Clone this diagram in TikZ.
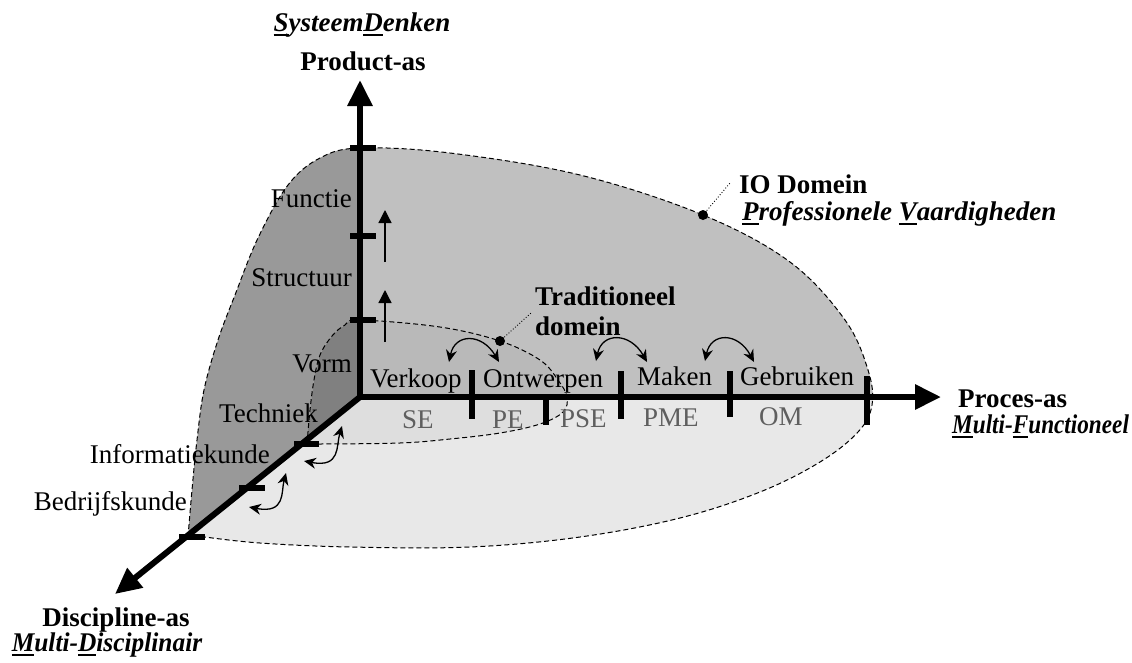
\documentclass[tikz,border=0pt]{standalone}
\usepackage{fontspec}
\setmainfont{Liberation Serif}
\usetikzlibrary{arrows.meta}

\definecolor{floorgray}{HTML}{E8E8E8}
\definecolor{planegray}{HTML}{C0C0C0}
\definecolor{wallgray}{HTML}{999999}
\definecolor{tradfloor}{HTML}{DEDEDE}
\definecolor{tradplane}{HTML}{B9B9B9}
\definecolor{tradwall}{HTML}{808080}
\definecolor{labelgray}{HTML}{5F5F5F}

% underlined initial letter
\newcommand\uchar[1]{\setbox0\hbox{#1}\rlap{\rule[-5pt]{\wd0}{2.2pt}}\box0}

\begin{document}
\begin{tikzpicture}[x=1pt,y=-1pt,
  txt/.style={inner sep=0pt, font=\fontsize{27}{30}\selectfont},
  boldtxt/.style={inner sep=0pt, font=\fontsize{27}{30}\selectfont\bfseries},
  bitxt/.style={inner sep=0pt, font=\fontsize{27}{30}\selectfont\bfseries\itshape},
  greytxt/.style={txt, text=labelgray},
  axisline/.style={line width=6pt, line join=miter},
  bigtip/.style={-{Triangle[length=26pt,width=24pt]}},
  tickbar/.style={line width=6pt},
  boundary/.style={line width=1pt, dash pattern=on 5pt off 3pt},
  upshift/.style={line width=1.3pt, -{Triangle[length=13pt,width=13pt]}},
  twoway/.style={line width=1.3pt, {Stealth[length=12pt,width=11pt]}-{Stealth[length=12pt,width=11pt]}},
  leader/.style={dotted, line width=0.9pt},
  outer/.style={insert path={plot[smooth,tension=0.6] coordinates {
      (188,537) (192,490) (197,440) (204,390) (218,340) (235,295) (258,238)
      (288,185) (320,158) (360,148) (450,153) (580,175) (703,215) (790,262)
      (845,320) (868,370) (872,405) (858,432) (820,462) (760,492) (680,518)
      (580,537) (470,547) (350,547) (260,543) (205,537)} -- cycle}},
  trad/.style={insert path={plot[smooth,tension=0.6] coordinates {
      (307,444) (310,410) (314,380) (320,355) (332,336) (345,325) (360,320)
      (440,327) (500,341) (540,360) (558,380) (567,397) (563,412) (540,424)
      (500,433) (450,439) (400,443) (319,444)} -- cycle}},
]
\useasboundingbox (0,0) rectangle (1132,662);

% axis points
\coordinate (O) at (360,397);
\coordinate (ytip) at (360,80);
\coordinate (xtip) at (941,397);
\coordinate (ztip) at (115,594);

% ---- shaded regions (IO domain) ----
\fill[floorgray, outer];
\begin{scope}
  \clip (O) -- (360,0) -- (1132,0) -- (1132,397) -- cycle;
  \fill[planegray, outer];
\end{scope}
\begin{scope}
  \clip (O) -- (360,0) -- (0,0) -- (0,690) -- cycle;
  \fill[wallgray, outer];
\end{scope}

% ---- shaded regions (traditional domain) ----
\fill[tradfloor, trad];
\begin{scope}
  \clip (O) -- (360,0) -- (1132,0) -- (1132,397) -- cycle;
  \fill[tradplane, trad];
\end{scope}
\begin{scope}
  \clip (O) -- (360,0) -- (0,0) -- (0,690) -- cycle;
  \fill[tradwall, trad];
\end{scope}

% dashed outlines
\draw[boundary, outer];
\draw[boundary, trad];

% ---- axes ----
\draw[axisline, {Triangle[length=26pt,width=24pt]}-{Triangle[length=26pt,width=24pt]}]
  (ytip) -- (O) -- (xtip);
\draw[axisline, bigtip] (O) -- (ztip);

% ticks on the product axis
\foreach \ty in {148,236,320}
  \draw[tickbar] (350,\ty) -- (376,\ty);
% ticks on the process axis
\draw[tickbar] (472,370) -- (472,419);
\draw[tickbar] (546,397) -- (546,425);
\draw[tickbar] (621,371) -- (621,419);
\draw[tickbar] (730,371) -- (730,417);
\draw[tickbar] (867,376) -- (867,425);
% ticks on the discipline axis
\draw[tickbar] (294,444) -- (319,444);
\draw[tickbar] (239,488) -- (265,488);
\draw[tickbar] (179,537) -- (205,537);

% ---- small arrows ----
\coordinate (u1a) at (385,262); \coordinate (u1b) at (385,210);
\coordinate (u2a) at (385,342); \coordinate (u2b) at (385,290);
\draw[upshift] (u1a) -- (u1b);
\draw[upshift] (u2a) -- (u2b);

\coordinate (s1a) at (449,362); \coordinate (s1b) at (499,362);
\coordinate (s2a) at (596,361); \coordinate (s2b) at (647,362);
\coordinate (s3a) at (705,361); \coordinate (s3b) at (754,362);
\draw[twoway] (s1a) .. controls (455,333) and (482,333) .. (s1b);
\draw[twoway] (s2a) .. controls (602,332) and (630,332) .. (s2b);
\draw[twoway] (s3a) .. controls (711,332) and (738,332) .. (s3b);

\coordinate (d1a) at (249,507); \coordinate (d1b) at (286,473);
\coordinate (d2a) at (304,461); \coordinate (d2b) at (342,426);
\draw[twoway] (d1a) .. controls (286,514) and (281,492) .. (d1b);
\draw[twoway] (d2a) .. controls (341,468) and (336,446) .. (d2b);

% ---- leaders to the domain labels ----
\coordinate (tdot) at (500,341); \coordinate (tend) at (531,313);
\coordinate (iodot) at (703,215); \coordinate (ioend) at (730,183);
\draw[leader] (tdot) -- (tend);
\draw[leader] (iodot) -- (ioend);
\fill (tdot) circle (5pt);
\fill (iodot) circle (5pt);

% ---- labels ----
\node[bitxt, anchor=base] (sysd) at (362,31) {\uchar{S}ysteem\uchar{D}enken};
\node[boldtxt, anchor=base] (prodas) at (363,70) {Product-as};

\node[txt, anchor=base east] (functie) at (352,207) {Functie};
\node[txt, anchor=base east] (structuur) at (352,286) {Structuur};
\node[txt, anchor=base east] (vorm) at (352,372) {Vorm};

\node[txt, anchor=base west] (verkoop) at (370,387) {Verkoop};
\node[txt, anchor=base west] (ontwerpen) at (483,387) {Ontwerpen};
\node[txt, anchor=base west] (maken) at (637,385) {Maken};
\node[txt, anchor=base west] (gebruiken) at (740,385) {Gebruiken};

\node[greytxt, anchor=base west] (se) at (402,428) {SE};
\node[greytxt, anchor=base west] (pe) at (492,428) {PE};
\node[greytxt, anchor=base west] (pse) at (560,427) {PSE};
\node[greytxt, anchor=base west] (pme) at (643,426) {PME};
\node[greytxt, anchor=base west] (om) at (759,425) {OM};

\node[txt, anchor=base west] (techniek) at (219,422) {Techniek};
\node[txt, anchor=base east] (info) at (270,463) {Informatiekunde};
\node[txt, anchor=base east] (bedrijf) at (187,510) {Bedrijfskunde};

\node[boldtxt, anchor=base] (discas) at (116,626) {Discipline-as};
\node[bitxt, anchor=base] (multid) at (107,651)
  {\scalebox{0.94}[1]{\uchar{M}ulti-\uchar{D}isciplinair}};

\node[boldtxt, anchor=base west] (procas) at (958,407) {Proces-as};
\node[bitxt, anchor=base west] (multif) at (952,433)
  {\scalebox{0.86}[1]{\uchar{M}ulti-\uchar{F}unctioneel}};

\node[boldtxt, anchor=base west] (io) at (739,193) {IO Domein};
\node[bitxt, anchor=base west] (prof) at (742,220) {\uchar{P}rofessionele \uchar{V}aardigheden};

\node[boldtxt, anchor=base west] (tradi) at (535,305) {Traditioneel};
\node[boldtxt, anchor=base west] (domein) at (535,335) {domein};
\end{tikzpicture}
\end{document}
